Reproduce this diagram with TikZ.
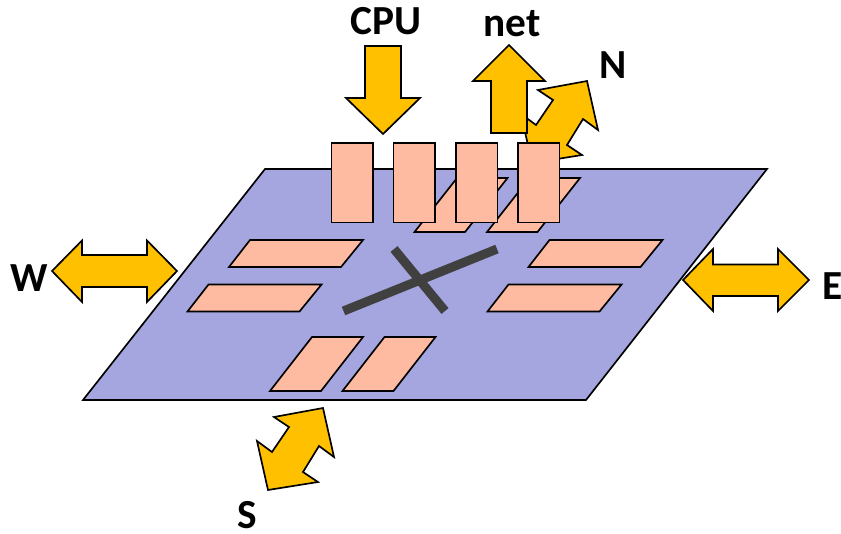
\documentclass[tikz,border=0pt]{standalone}
\usepackage{fontspec}
\setmainfont{Carlito}
\definecolor{platecol}{HTML}{A5A5DF}
\definecolor{padcol}{HTML}{FFBBA1}
\definecolor{arrowcol}{HTML}{FFC000}
\definecolor{crosscol}{HTML}{404040}
\begin{document}
\begin{tikzpicture}[x=.75pt, y=-.75pt, line join=miter, line width=1.25pt,
	plate/.style={draw=black, fill=platecol},
	pad/.style={draw=black, fill=padcol},
	fatarrow/.style={draw=black, fill=arrowcol},
	crossbar/.style={draw=crosscol, line width=6.8pt},
	lbl/.style={font=\bfseries\fontsize{31}{31}\selectfont, inner sep=0pt, text=black}]
	\useasboundingbox (0,0) rectangle (841,533);
	\draw [plate] (83,400)--(586,400)--(767,169)--(265,169)--cycle;
	% flat pads, left and right
	\foreach \px/\py in {0/0,-41.5/44.5,299.5/0,258.5/44.5}
	\draw [pad, shift={(\px,\py)}] (229,267)--(341,267)--(363,240)--(250,240)--cycle;
	% pads near the bottom and near the top
	\foreach \px in {0,72.5}
	\draw [pad, shift={(\px,0)}] (270,391)--(321,391)--(363,337)--(312,337)--cycle;
	\foreach \px in {0,72.5}
	\draw [pad, shift={(\px,0)}] (414.5,232)--(465,232)--(507.5,178)--(457,178)--cycle;
	\draw [crossbar] (343.5,311)--(497,249) (394,249)--(445,311);
	% side arrows
	\draw [fatarrow] (52,271)--(82,240.5)--(82,255)--(147,255)--(147,240.5)--(177,271)--(147,302)--(147,287)--(82,287)--(82,302)--cycle;
	\draw [fatarrow] (683,280)--(713,249)--(713,264.5)--(778,264.5)--(778,249)--(809,280)--(778,311)--(778,296)--(713,296)--(713,311)--cycle;
	\foreach \px/\py in {0/0,264/-327}
	\draw [fatarrow, shift={(\px,\py)}] (323,408)--(334,457)--(319,446)--(303,472)--(318,482)--(268,490)--(257,441)--(272,452)--(289,427)--(274,417)--cycle;
	\draw [fatarrow] (365,46)--(401,46)--(401,98)--(420,98)--(383,134)--(346,98)--(365,98)--cycle;
	\draw [fatarrow] (509,45)--(545,81)--(527,81)--(527,133)--(491,133)--(491,81)--(473,81)--cycle;
	% upright pads
	\foreach \px in {331.5,393.5,456,518}
	\draw [pad] (\px,143) rectangle ++(41.5,79.5);
	\node [lbl] (cpu) at (386,21) {CPU};
	\node [lbl] (net) at (512,24) {net};
	\node [lbl] (north) at (613,65) {N};
	\node [lbl] (west) at (29,278) {W};
	\node [lbl] (east) at (832.5,286) {E};
	\node [lbl] (south) at (247,515) {S};
\end{tikzpicture}
\end{document}
